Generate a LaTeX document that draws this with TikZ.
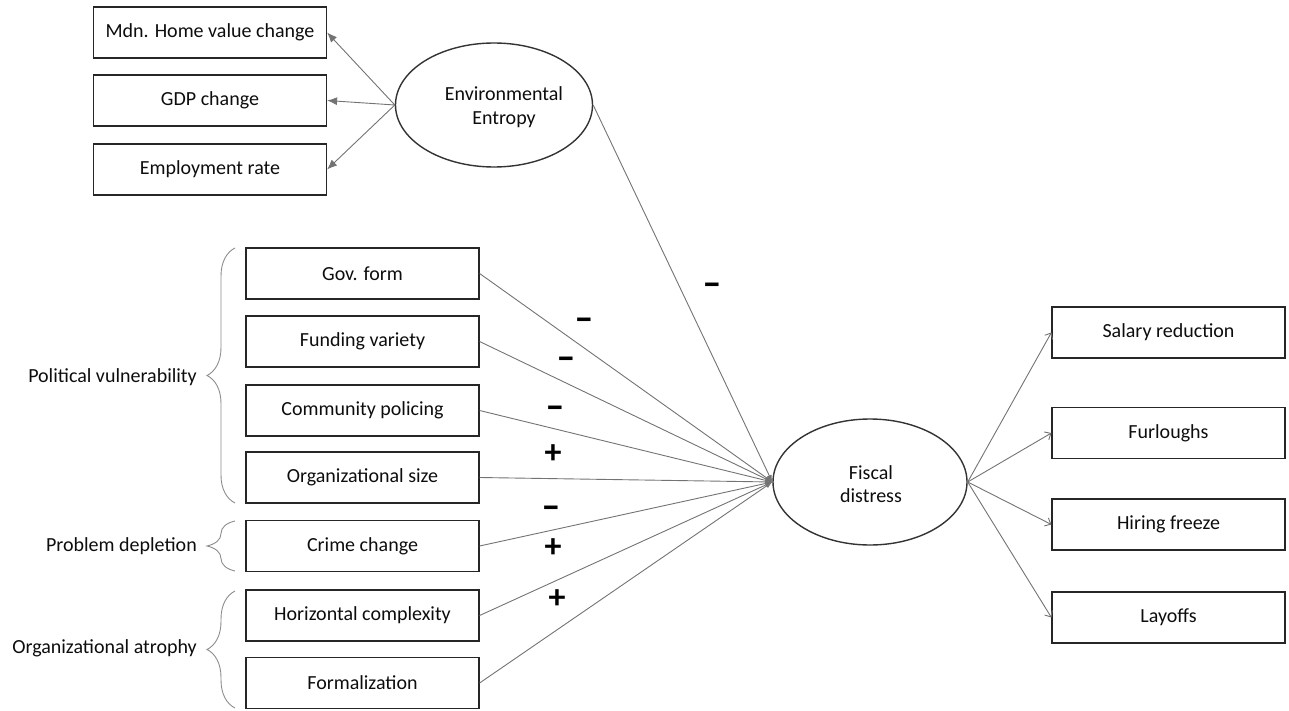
\documentclass[tikz,border=0pt]{standalone}
\usepackage{fontspec}
\setmainfont{Carlito}
\usetikzlibrary{arrows.meta,shapes.geometric,decorations.pathreplacing}
\begin{document}
\begin{tikzpicture}[x=1pt,y=-1pt,
  box/.style={draw=black!85, line width=1.2pt, minimum width=233pt, minimum height=51pt, inner sep=0pt, font=\fontsize{20}{24}\selectfont, text=black!95},
  latent/.style={draw=black!80, line width=1.4pt, ellipse, minimum width=197pt, minimum height=124pt, inner sep=0pt},
  ltext/.style={align=center, font=\fontsize{20}{23.5}\selectfont, text=black!95, inner sep=0pt},
  grp/.style={anchor=east, font=\fontsize{20}{24}\selectfont, text=black!95, inner sep=0pt},
  arrL/.style={draw=black!55, line width=0.9pt, -{Latex[length=10pt,width=8pt]}},
  arrF/.style={draw=black!55, line width=0.9pt, -{Latex[length=7pt,width=5pt]}},
  arrR/.style={draw=black!55, line width=0.9pt, -{Straight Barb[length=5pt,width=9pt]}},
  brc/.style={draw=black!45, line width=0.9pt, decorate, decoration={brace, amplitude=28pt}},
  sign/.style={font=\bfseries\fontsize{34}{34}\selectfont, inner sep=0pt, text=black}
]
\useasboundingbox (0,0) rectangle (1289,711);

% top indicators
\node[box] (hv)  at (210,32.5)  {Mdn. Home value change};
\node[box] (gdp) at (210,100.5) {GDP change};
\node[box] (emp) at (210,169.5) {Employment rate};
\node[latent] (ee) at (494,105) {};
\node[ltext] (eet) at (504,107) {Environmental\\Entropy};

% middle predictors
\node[box] (gov)  at (362.5,273.5) {Gov. form};
\node[box] (fund) at (362.5,341.5) {Funding variety};
\node[box] (comm) at (362.5,410.5) {Community policing};
\node[box] (size) at (362.5,477.5) {Organizational size};
\node[box] (crime) at (362.5,546) {Crime change};
\node[box] (horiz) at (362.5,615.5) {Horizontal complexity};
\node[box] (form) at (362.5,683) {Formalization};

% fiscal distress
\node[latent, minimum width=194pt, minimum height=126pt] (fd) at (870,482) {};
\node[ltext] (fdt) at (871,484) {Fiscal\\distress};

% outcomes
\node[box] (sal) at (1168.5,332.5) {Salary reduction};
\node[box] (furl) at (1168.5,433) {Furloughs};
\node[box] (hire) at (1168.5,524.5) {Hiring freeze};
\node[box] (lay) at (1168.5,617.5) {Layoffs};

% braces and group labels
\coordinate (pvb) at (235,503);
\coordinate (pvt) at (235,248);
\coordinate (pdb) at (235,571);
\coordinate (pdt) at (235,521);
\coordinate (oab) at (235,708);
\coordinate (oat) at (235,591);
\draw[brc] (pvb) -- (pvt);
\draw[brc] (pdb) -- (pdt);
\draw[brc] (oab) -- (oat);
\node[grp] (pv) at (197,377) {Political vulnerability};
\node[grp] (pd) at (197,546) {Problem depletion};
\node[grp] (oa) at (197,648) {Organizational atrophy};

% connectors
\draw[arrL] (ee.west) -- (hv.east);
\draw[arrL] (ee.west) -- (gdp.east);
\draw[arrL] (ee.west) -- (emp.east);
\draw[arrF] (ee.east) -- (fd.west);
\foreach \n in {gov,fund,comm,size,crime,horiz,form}
  \draw[arrF] (\n.east) -- (fd.west);
\foreach \n in {sal,furl,hire,lay}
  \draw[arrR] (fd.east) -- (\n.west);

% signs
\node[sign] (s0) at (712,289) {\scalebox{1.6}[1]{-}};
\node[sign] (s1) at (584,324) {\scalebox{1.6}[1]{-}};
\node[sign] (s2) at (566,363) {\scalebox{1.6}[1]{-}};
\node[sign] (s3) at (555,412) {\scalebox{1.6}[1]{-}};
\node[sign] (s4) at (553,454) {+};
\node[sign] (s5) at (551,512) {\scalebox{1.6}[1]{-}};
\node[sign] (s6) at (553,548) {+};
\node[sign] (s7) at (557,599) {+};
\end{tikzpicture}
\end{document}
